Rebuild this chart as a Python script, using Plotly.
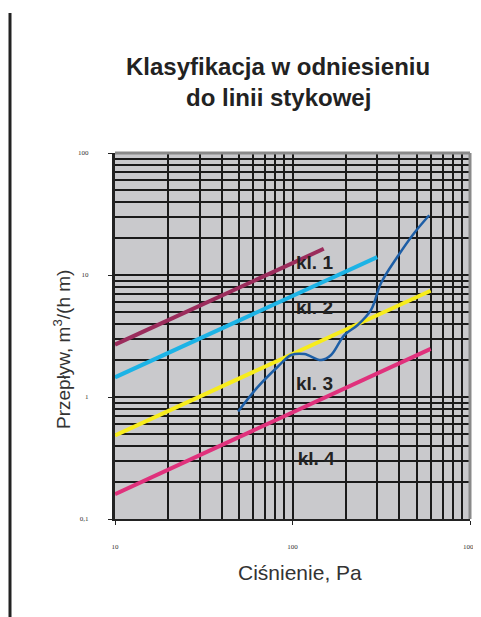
import plotly.graph_objects as go

# Class lines (straight on log-log scale): endpoints
kl1_p = [10, 150]
kl1_q = [2.69, 16.4]
kl2_p = [10, 300]
kl2_q = [1.45, 14.0]
kl3_p = [10, 600]
kl3_q = [0.485, 7.43]
kl4_p = [10, 600]
kl4_q = [0.16, 2.48]

# Measured curve
meas_p = [49.4, 63.8, 82.6, 98.4, 116.7, 145, 165, 196, 233, 277, 315, 390, 484, 589]
meas_q = [0.76, 1.21, 1.77, 2.21, 2.25, 2.01, 2.21, 3.22, 3.89, 5.17, 8.55, 14.1, 22.0, 30.9]

label_text = ["kl. 1", "kl. 2", "kl. 3", "kl. 4"]
label_p = [133, 133, 133, 136]
label_q = [12.3, 5.2, 1.25, 0.305]

x_major = [10, 100, 1000]
x_major_text = ["10", "100", "1000"]
y_major = [0.1, 1, 10, 100]
y_major_text = ["0,1", "1", "10", "100"]
x_minor = [m * d for d in (10, 100) for m in range(2, 10)]
y_minor = [m * d for d in (0.1, 1, 10) for m in range(2, 10)]

fig = go.Figure()
fig.add_trace(go.Scatter(x=kl1_p, y=kl1_q, mode="lines", line=dict(color="#9b2c5c", width=4)))
fig.add_trace(go.Scatter(x=kl2_p, y=kl2_q, mode="lines", line=dict(color="#1cb3e6", width=4)))
fig.add_trace(go.Scatter(x=kl3_p, y=kl3_q, mode="lines", line=dict(color="#f7ec1c", width=4)))
fig.add_trace(go.Scatter(x=kl4_p, y=kl4_q, mode="lines", line=dict(color="#e0317c", width=4)))
fig.add_trace(go.Scatter(x=meas_p, y=meas_q, mode="lines", line=dict(color="#1d5ea6", width=2.5, shape="spline")))
fig.add_trace(go.Scatter(x=label_p, y=label_q, mode="text", text=label_text,
                         textfont=dict(family="Liberation Sans, Arial", size=19, color="#222222", weight="bold"),
                         textposition="middle center"))

grid_col = "#1a1a1a"
tick_font = dict(family="Liberation Serif", size=7, color="#333")
fig.update_xaxes(type="log", range=[1, 3], tickmode="array", tickvals=x_major, ticktext=x_major_text,
                 showgrid=True, gridcolor=grid_col, gridwidth=1.5, automargin=False,
                 minor=dict(tickmode="array", tickvals=x_minor, showgrid=True, gridcolor=grid_col, gridwidth=1.5, ticks=""),
                 ticks="outside", ticklen=4, tickcolor="#222", tickwidth=1, ticklabelstandoff=16,
                 tickfont=tick_font,
                 showline=True, linecolor="#222", linewidth=2, zeroline=False)
fig.update_yaxes(type="log", range=[-1, 2], tickmode="array", tickvals=y_major, ticktext=y_major_text,
                 showgrid=True, gridcolor=grid_col, gridwidth=1.5, automargin=False,
                 minor=dict(tickmode="array", tickvals=y_minor, showgrid=True, gridcolor=grid_col, gridwidth=1.5, ticks=""),
                 ticks="outside", ticklen=4, tickcolor="#222", tickwidth=1, ticklabelstandoff=18,
                 tickfont=tick_font,
                 showline=True, linecolor="#222", linewidth=3, zeroline=False)

# page body has an 8px margin, so the figure is drawn offset by 8px
OFF = 8
W, H = 473, 609
L, R, T, B = 115 - OFF, 11, 153 - OFF, 98
pw, ph = W - L - R, H - T - B

def px(x):
    return (x - OFF - L) / pw

def py(y):
    return (H - B - (y - OFF)) / ph

title_font = dict(family="Liberation Sans, Arial", size=24, color="#222222")
fig.update_layout(
    width=W, height=H,
    margin=dict(l=L, r=R, t=T, b=B),
    paper_bgcolor="white", plot_bgcolor="#c9c9cc",
    showlegend=False,
    annotations=[
        dict(text="<b>Klasyfikacja w odniesieniu</b>", xref="paper", yref="paper", x=px(278), y=py(67),
             xanchor="center", yanchor="middle", showarrow=False, font=title_font),
        dict(text="<b>do linii stykowej</b>", xref="paper", yref="paper", x=px(278), y=py(97),
             xanchor="center", yanchor="middle", showarrow=False, font=title_font),
        dict(text="Ciśnienie, Pa", xref="paper", yref="paper", x=px(300), y=py(572),
             xanchor="center", yanchor="middle", showarrow=False,
             font=dict(family="Liberation Sans, Arial", size=21, color="#333")),
        dict(text="Przepływ, m<sup>3</sup>/(h m)", xref="paper", yref="paper", x=px(62), y=py(350),
             xanchor="center", yanchor="middle", showarrow=False, textangle=-90,
             font=dict(family="Liberation Sans, Arial", size=19, color="#333")),
    ],
    shapes=[
        dict(type="line", xref="paper", yref="paper", x0=1, x1=1, y0=0, y1=1, line=dict(color="#8a8a8a", width=3)),
        dict(type="line", xref="paper", yref="paper", x0=0, x1=1, y0=1, y1=1, line=dict(color="#8a8a8a", width=3)),
        # page border line at left (scanned page edge)
        dict(type="line", xref="paper", yref="paper", x0=px(10), x1=px(10), y0=py(620), y1=py(13),
             line=dict(color="#222", width=3)),
    ],
)

fig.write_html("out.html")
